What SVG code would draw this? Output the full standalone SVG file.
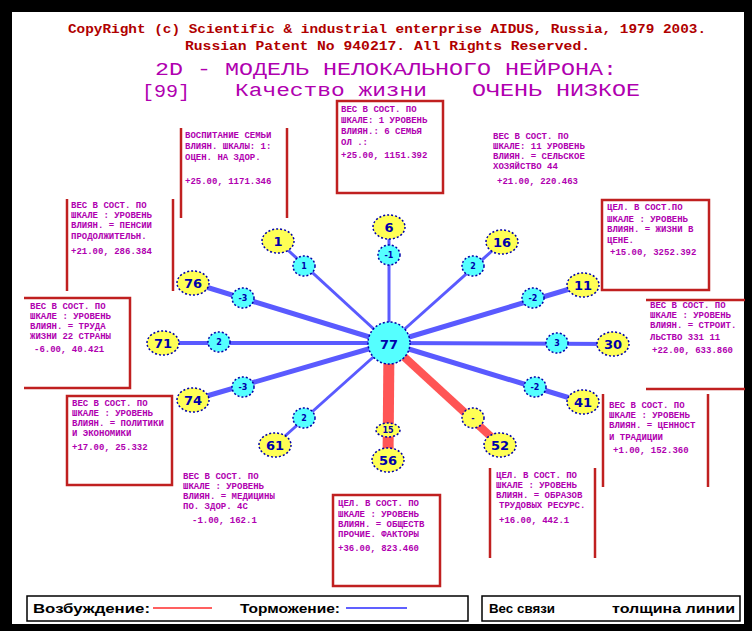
<svg xmlns="http://www.w3.org/2000/svg" width="752" height="631" viewBox="0 0 752 631">
<style>
.hdr{font-family:"Liberation Mono","DejaVu Sans Mono",monospace;font-weight:bold;fill:#b00000;font-size:13px}
.ttl{font-family:"Liberation Mono","DejaVu Sans Mono",monospace;fill:#b000b0;font-size:19px}
.bt{font-family:"Liberation Mono","DejaVu Sans Mono",monospace;font-weight:bold;fill:#b000b0;font-size:9px}
.box{fill:none;stroke:#c02020;stroke-width:2.5}
.out{fill:#ffff55;stroke:#0000aa;stroke-width:1.5;stroke-dasharray:2 2}
.inb{fill:#55ffff;stroke:#0000aa;stroke-width:1.5;stroke-dasharray:2 2}
.iny{fill:#ffff55;stroke:#0000aa;stroke-width:1.5;stroke-dasharray:2 2}
.nl{font-family:"DejaVu Sans","Liberation Sans",sans-serif;font-weight:bold;fill:#0000aa;font-size:13px;text-anchor:middle}
.sl{font-family:"DejaVu Sans","Liberation Sans",sans-serif;font-weight:bold;fill:#0000aa;font-size:8px;text-anchor:middle}
.bl{stroke:#5a5aff;fill:none}
.rd{stroke:#ff5555;fill:none}
.lg{font-family:"Liberation Sans","DejaVu Sans",sans-serif;font-weight:bold;fill:#000;font-size:13px}
</style>
<rect x="0" y="0" width="752" height="631" fill="#000"/>
<rect x="12" y="12" width="732" height="612" fill="#fff"/>
<g id="header">
<text class="hdr" x="68" y="33" textLength="638" lengthAdjust="spacingAndGlyphs">CopyRight (c) Scientific &amp; industrial enterprise AIDUS, Russia, 1979 2003.</text>
<text class="hdr" x="185" y="50" textLength="405" lengthAdjust="spacingAndGlyphs">Russian Patent No 940217. All Rights Reserved.</text>
<text class="ttl" x="155" y="75" textLength="462" lengthAdjust="spacingAndGlyphs">2D - МОДЕЛЬ НЕЛОКАЛЬНОГО НЕЙРОНА:</text>
<text class="ttl" x="142" y="97" font-size="18" textLength="48" lengthAdjust="spacingAndGlyphs">[99]</text>
<text class="ttl" x="235" y="96" font-size="15" textLength="192" lengthAdjust="spacingAndGlyphs">Качество жизни</text>
<text class="ttl" x="472" y="96" font-size="15" textLength="168" lengthAdjust="spacingAndGlyphs">ОЧЕНЬ НИЗКОЕ</text>
</g>
<g id="connectors">
<line class="bl" x1="278" y1="241" x2="389" y2="343" stroke-width="3"/>
<line class="bl" x1="389" y1="227" x2="389" y2="343" stroke-width="3"/>
<line class="bl" x1="502" y1="242" x2="389" y2="343" stroke-width="3"/>
<line class="bl" x1="193" y1="283" x2="389" y2="343" stroke-width="5"/>
<line class="bl" x1="583" y1="285" x2="389" y2="343" stroke-width="5"/>
<line class="bl" x1="163" y1="343" x2="389" y2="343" stroke-width="4"/>
<line class="bl" x1="613" y1="344" x2="389" y2="343" stroke-width="4"/>
<line class="bl" x1="193" y1="400" x2="389" y2="343" stroke-width="5"/>
<line class="bl" x1="583" y1="402" x2="389" y2="343" stroke-width="5"/>
<line class="bl" x1="275" y1="445" x2="389" y2="343" stroke-width="3"/>
<line class="rd" x1="388" y1="460" x2="389" y2="343" stroke-width="11"/>
<line class="rd" x1="500" y1="445" x2="389" y2="343" stroke-width="8"/>
</g>
<g id="box6"><rect class="box" x="337" y="101" width="106" height="92"/>
<text class="bt" x="341" y="112">ВЕС В СОСТ. ПО</text><text class="bt" x="341" y="123">ШКАЛЕ: 1 УРОВЕНЬ</text><text class="bt" x="341" y="134">ВЛИЯН.: 6 СЕМЬЯ</text><text class="bt" x="341" y="145">ОЛ .:</text><text class="bt" x="341" y="158">+25.00, 1151.392</text></g>
<g id="box1"><line class="box" x1="181" y1="128" x2="181" y2="218"/><line class="box" x1="287" y1="128" x2="287" y2="218"/>
<text class="bt" x="185" y="138">ВОСПИТАНИЕ СЕМЬИ</text><text class="bt" x="185" y="149">ВЛИЯН. ШКАЛЫ: 1:</text><text class="bt" x="185" y="160">ОЦЕН. НА ЗДОР.</text><text class="bt" x="185" y="184">+25.00, 1171.346</text></g>
<g id="box16">
<text class="bt" x="493" y="139">ВЕС В СОСТ. ПО</text><text class="bt" x="493" y="149">ШКАЛЕ: 11 УРОВЕНЬ</text><text class="bt" x="493" y="159">ВЛИЯН. = СЕЛЬСКОЕ</text><text class="bt" x="493" y="169">ХОЗЯЙСТВО 44</text><text class="bt" x="497" y="184">+21.00, 220.463</text></g>
<g id="box11"><rect class="box" x="602" y="200" width="107" height="90"/>
<text class="bt" x="607" y="210">ЦЕЛ. В СОСТ.ПО</text><text class="bt" x="607" y="222">ШКАЛЕ : УРОВЕНЬ</text><text class="bt" x="607" y="232">ВЛИЯН. = ЖИЗНИ В</text><text class="bt" x="607" y="243">ЦЕНЕ.</text><text class="bt" x="610" y="255">+15.00, 3252.392</text></g>
<g id="box76"><line class="box" x1="67" y1="199" x2="67" y2="291"/><line class="box" x1="173" y1="199" x2="173" y2="291"/>
<text class="bt" x="71" y="208">ВЕС В СОСТ. ПО</text><text class="bt" x="71" y="218">ШКАЛЕ : УРОВЕНЬ</text><text class="bt" x="71" y="228">ВЛИЯН. = ПЕНСИИ</text><text class="bt" x="71" y="239">ПРОДОЛЖИТЕЛЬН.</text><text class="bt" x="71" y="254">+21.00, 286.384</text></g>
<g id="box71"><polyline class="box" points="24,298 130,298 130,388 24,388"/>
<text class="bt" x="30" y="309">ВЕС В СОСТ. ПО</text><text class="bt" x="30" y="319">ШКАЛЕ : УРОВЕНЬ</text><text class="bt" x="30" y="329">ВЛИЯН. = ТРУДА</text><text class="bt" x="30" y="339">ЖИЗНИ 22 СТРАНЫ</text><text class="bt" x="34" y="352">-6.00, 40.421</text></g>
<g id="box30"><polyline class="box" points="646,300 745,300"/><polyline class="box" points="646,389 745,389"/>
<text class="bt" x="650" y="308">ВЕС В СОСТ. ПО</text><text class="bt" x="650" y="318">ШКАЛЕ : УРОВЕНЬ</text><text class="bt" x="650" y="328">ВЛИЯН. = СТРОИТ.</text><text class="bt" x="650" y="340">ЛЬСТВО 331 11</text><text class="bt" x="652" y="353">+22.00, 633.860</text></g>
<g id="box74"><rect class="box" x="67" y="396" width="105" height="89"/>
<text class="bt" x="72" y="406">ВЕС В СОСТ. ПО</text><text class="bt" x="72" y="416">ШКАЛЕ : УРОВЕНЬ</text><text class="bt" x="72" y="426">ВЛИЯН. = ПОЛИТИКИ</text><text class="bt" x="72" y="436">И ЭКОНОМИКИ</text><text class="bt" x="72" y="450">+17.00, 25.332</text></g>
<g id="box41"><line class="box" x1="603" y1="394" x2="603" y2="487"/><line class="box" x1="708" y1="394" x2="708" y2="487"/>
<text class="bt" x="609" y="408">ВЕС В СОСТ. ПО</text><text class="bt" x="609" y="418">ШКАЛЕ : УРОВЕНЬ</text><text class="bt" x="609" y="428">ВЛИЯН. = ЦЕННОСТ</text><text class="bt" x="609" y="440">И ТРАДИЦИИ</text><text class="bt" x="613" y="453">+1.00, 152.360</text></g>
<g id="box61">
<text class="bt" x="183" y="479">ВЕС В СОСТ. ПО</text><text class="bt" x="183" y="489">ШКАЛЕ : УРОВЕНЬ</text><text class="bt" x="183" y="499">ВЛИЯН. = МЕДИЦИНЫ</text><text class="bt" x="183" y="509">ПО. ЗДОР. 4С</text><text class="bt" x="192" y="523">-1.00, 162.1</text></g>
<g id="box56"><rect class="box" x="333" y="495" width="107" height="91"/>
<text class="bt" x="338" y="506">ЦЕЛ. В СОСТ. ПО</text><text class="bt" x="338" y="517">ШКАЛЕ : УРОВЕНЬ</text><text class="bt" x="338" y="527">ВЛИЯН. = ОБЩЕСТВ</text><text class="bt" x="338" y="537">ПРОЧИЕ. ФАКТОРЫ</text><text class="bt" x="338" y="551">+36.00, 823.460</text></g>
<g id="box52"><line class="box" x1="490" y1="468" x2="490" y2="558"/><line class="box" x1="595" y1="468" x2="595" y2="558"/>
<text class="bt" x="496" y="478">ЦЕЛ. В СОСТ. ПО</text><text class="bt" x="496" y="488">ШКАЛЕ : УРОВЕНЬ</text><text class="bt" x="496" y="498">ВЛИЯН. = ОБРАЗОВ</text><text class="bt" x="499" y="508">ТРУДОВЫХ РЕСУРС.</text><text class="bt" x="499" y="523">+16.00, 442.1</text></g>
<g id="n1"><ellipse class="out" cx="278" cy="241" rx="16" ry="12"/><text class="nl" x="278" y="246">1</text></g>
<g id="n6"><ellipse class="out" cx="389" cy="227" rx="16" ry="12"/><text class="nl" x="389" y="232">6</text></g>
<g id="n16"><ellipse class="out" cx="502" cy="242" rx="16" ry="12"/><text class="nl" x="502" y="247">16</text></g>
<g id="n76"><ellipse class="out" cx="193" cy="283" rx="16" ry="12"/><text class="nl" x="193" y="288">76</text></g>
<g id="n11"><ellipse class="out" cx="583" cy="285" rx="16" ry="12"/><text class="nl" x="583" y="290">11</text></g>
<g id="n71"><ellipse class="out" cx="163" cy="343" rx="16" ry="12"/><text class="nl" x="163" y="348">71</text></g>
<g id="n30"><ellipse class="out" cx="613" cy="344" rx="16" ry="12"/><text class="nl" x="613" y="349">30</text></g>
<g id="n74"><ellipse class="out" cx="193" cy="400" rx="16" ry="12"/><text class="nl" x="193" y="405">74</text></g>
<g id="n41"><ellipse class="out" cx="583" cy="402" rx="16" ry="12"/><text class="nl" x="583" y="407">41</text></g>
<g id="n61"><ellipse class="out" cx="275" cy="445" rx="16" ry="12"/><text class="nl" x="275" y="450">61</text></g>
<g id="n56"><ellipse class="out" cx="388" cy="460" rx="16" ry="12"/><text class="nl" x="388" y="465">56</text></g>
<g id="n52"><ellipse class="out" cx="500" cy="445" rx="16" ry="12"/><text class="nl" x="500" y="450">52</text></g>
<g id="w1"><ellipse class="inb" cx="304" cy="266" rx="11" ry="10"/><text class="sl" x="304" y="269">1</text></g>
<g id="w6"><ellipse class="inb" cx="389" cy="255" rx="11" ry="10"/><text class="sl" x="389" y="258">-1</text></g>
<g id="w16"><ellipse class="inb" cx="473" cy="266" rx="11" ry="10"/><text class="sl" x="473" y="269">2</text></g>
<g id="w76"><ellipse class="inb" cx="243" cy="298" rx="11" ry="10"/><text class="sl" x="243" y="301">-3</text></g>
<g id="w11"><ellipse class="inb" cx="533" cy="298" rx="11" ry="10"/><text class="sl" x="533" y="301">-2</text></g>
<g id="w71"><ellipse class="inb" cx="219" cy="342" rx="11" ry="10"/><text class="sl" x="219" y="345">2</text></g>
<g id="w30"><ellipse class="inb" cx="557" cy="343" rx="11" ry="10"/><text class="sl" x="557" y="346">3</text></g>
<g id="w74"><ellipse class="inb" cx="243" cy="387" rx="11" ry="10"/><text class="sl" x="243" y="390">-3</text></g>
<g id="w41"><ellipse class="inb" cx="535" cy="387" rx="11" ry="10"/><text class="sl" x="535" y="390">-2</text></g>
<g id="w61"><ellipse class="inb" cx="304" cy="418" rx="11" ry="10"/><text class="sl" x="304" y="421">2</text></g>
<g id="w56"><ellipse class="iny" cx="388" cy="430" rx="12" ry="7"/><text class="sl" x="388" y="433">15</text></g>
<g id="w52"><ellipse class="iny" cx="473" cy="418" rx="11" ry="10"/><text class="sl" x="473" y="421">-</text></g>
<g id="n77"><circle class="inb" cx="389" cy="343" r="21"/><text class="nl" x="389" y="349" font-size="16">77</text></g>
<g id="legend">
<rect x="27" y="596" width="441" height="25" fill="none" stroke="#000" stroke-width="1.5"/>
<text class="lg" x="33" y="613" textLength="117" lengthAdjust="spacingAndGlyphs">Возбуждение:</text>
<line x1="153" y1="608" x2="212" y2="608" stroke="#ff6060" stroke-width="2"/>
<text class="lg" x="240" y="613" textLength="100" lengthAdjust="spacingAndGlyphs">Торможение:</text>
<line x1="346" y1="608" x2="407" y2="608" stroke="#6060ff" stroke-width="2"/>
<rect x="482" y="596" width="258" height="25" fill="none" stroke="#000" stroke-width="1.5"/>
<text class="lg" x="489" y="613" textLength="66" lengthAdjust="spacingAndGlyphs">Вес связи</text>
<text class="lg" x="612" y="613" textLength="123" lengthAdjust="spacingAndGlyphs">толщина линии</text>
</g>
</svg>
